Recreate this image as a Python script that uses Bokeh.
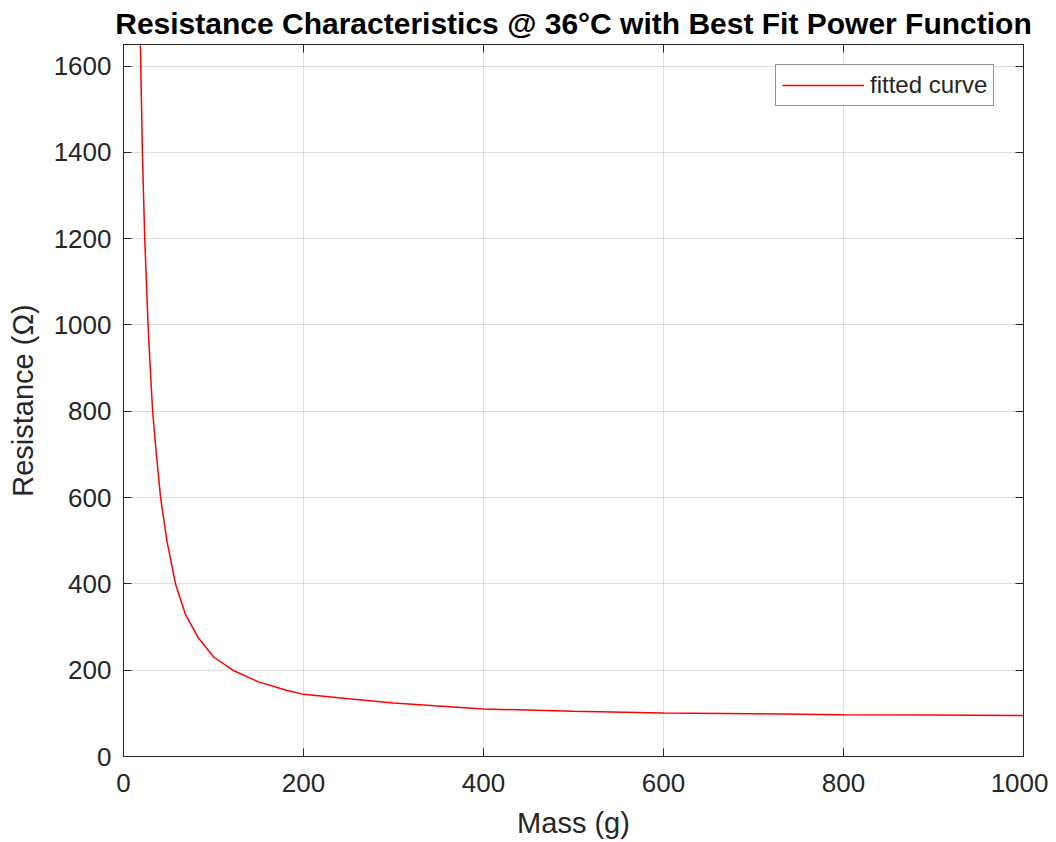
from bokeh.plotting import figure
from bokeh.models import ColumnDataSource, LinearAxis, Range1d, FixedTicker, Legend, LegendItem
from bokeh.embed import file_html
from bokeh.resources import INLINE

# Data
mass_g = [18.8, 19.2, 21.0, 23.6, 27.3, 30.5, 32.4, 35.9, 41.2, 48.3, 57.8,
          68.9, 83.5, 100.4, 121.5, 150, 182, 200, 250, 300, 400, 500, 600,
          700, 800, 900, 1000]
resistance_ohm = [1650, 1600, 1400, 1200, 1000, 870, 800, 715, 600, 499, 400,
                  329, 274, 230, 200, 173, 153, 144, 134, 124, 110, 105, 101,
                  99, 97, 96, 95]
x_ticks = [0, 200, 400, 600, 800, 1000]
y_ticks = [0, 200, 400, 600, 800, 1000, 1200, 1400, 1600]

FONT = "Liberation Sans"
DARK = "#262626"

src = ColumnDataSource(data=dict(x=mass_g, y=resistance_ohm))

p = figure(frame_width=900, frame_height=712,
           x_range=Range1d(0, 1000), y_range=Range1d(0, 1650),
           output_backend="svg", toolbar_location=None,
           title="Resistance Characteristics @ 36\u00b0C with Best Fit Power Function")
p.min_border_left = 123
p.min_border_right = 25
p.min_border_top = 43
p.min_border_bottom = 79
p.background_fill_color = "white"
p.border_fill_color = "white"
p.outline_line_color = DARK
p.outline_line_width = 1

p.title.text_font = FONT
p.title.text_font_size = "30px"
p.title.text_font_style = "bold"
p.title.text_color = "black"
p.title.align = "center"
p.title.standoff = 9

line = p.line("x", "y", source=src, line_color="#ff0000", line_width=1.5)

for ax in (p.xaxis[0], p.yaxis[0]):
    ax.axis_line_color = DARK
    ax.major_tick_line_color = DARK
    ax.major_tick_in = 8
    ax.major_tick_out = 0
    ax.minor_tick_line_color = None
    ax.major_label_text_font = FONT
    ax.major_label_text_font_size = "26px"
    ax.major_label_text_color = DARK
    ax.axis_label_text_font = FONT
    ax.axis_label_text_font_size = "29px"
    ax.axis_label_text_font_style = "normal"
    ax.axis_label_text_color = DARK

p.xaxis[0].major_label_standoff = 17
p.xaxis[0].axis_label_standoff = 12
p.yaxis[0].major_label_standoff = 12
p.yaxis[0].axis_label_standoff = 12

p.xaxis[0].ticker = FixedTicker(ticks=x_ticks)
p.yaxis[0].ticker = FixedTicker(ticks=y_ticks)
p.xaxis[0].axis_label = "Mass (g)"
p.yaxis[0].axis_label = "Resistance (\u03a9)"

for loc, ticks in (("right", y_ticks), ("above", x_ticks)):
    a = LinearAxis(ticker=FixedTicker(ticks=ticks))
    a.axis_line_color = DARK
    a.major_tick_line_color = DARK
    a.major_tick_in = 8
    a.major_tick_out = 0
    a.minor_tick_line_color = None
    a.major_label_overrides = {t: "" for t in ticks}
    a.major_label_standoff = 0
    p.add_layout(a, loc)

p.xgrid.ticker = FixedTicker(ticks=x_ticks)
p.ygrid.ticker = FixedTicker(ticks=y_ticks)
p.grid.grid_line_color = DARK
p.grid.grid_line_alpha = 0.15

legend = Legend(items=[LegendItem(label="fitted curve", renderers=[line])],
                location=(652, 650))
legend.label_text_font = FONT
legend.label_text_font_size = "24px"
legend.label_text_color = DARK
legend.glyph_width = 82
legend.glyph_height = 22
legend.label_height = 22
legend.label_standoff = 6
legend.padding = 6
legend.spacing = 0
legend.border_line_color = DARK
legend.border_line_width = 1
legend.background_fill_color = "white"
legend.background_fill_alpha = 1
p.add_layout(legend, "center")

open("out.html", "w").write(file_html(p, INLINE))
